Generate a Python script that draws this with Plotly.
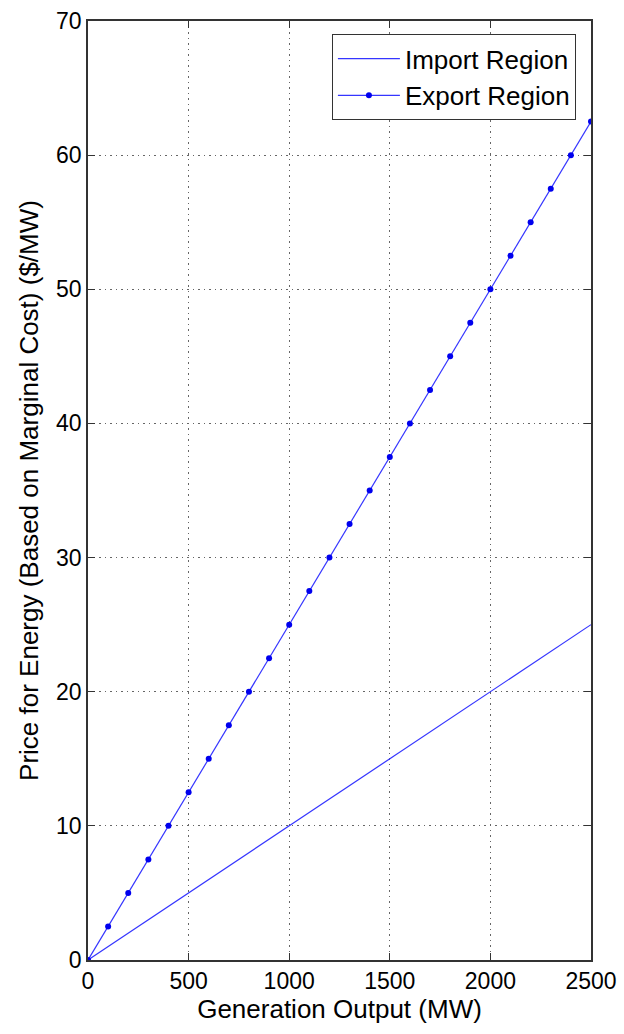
import plotly.graph_objects as go

gen_import = [0, 2500]
price_import = [0, 25]

gen_export = [0, 100, 200, 300, 400, 500, 600, 700, 800, 900, 1000, 1100, 1200,
              1300, 1400, 1500, 1600, 1700, 1800, 1900, 2000, 2100, 2200, 2300, 2400, 2500]
price_export = [0, 2.5, 5, 7.5, 10, 12.5, 15, 17.5, 20, 22.5, 25, 27.5, 30,
                32.5, 35, 37.5, 40, 42.5, 45, 47.5, 50, 52.5, 55, 57.5, 60, 62.5]

x_ticks = [0, 500, 1000, 1500, 2000, 2500]
y_ticks = [0, 10, 20, 30, 40, 50, 60, 70]

fig = go.Figure()
fig.add_trace(go.Scatter(x=gen_import, y=price_import, mode="lines", name="Import Region",
                         line=dict(color="#3535ff", width=1.2)))
fig.add_trace(go.Scatter(x=gen_export, y=price_export, mode="lines+markers", name="Export Region",
                         line=dict(color="#3535ff", width=1.2),
                         marker=dict(color="#0000ee", size=6)))

axis_common = dict(showline=True, linecolor="#333", linewidth=1.5, mirror="ticks",
                   ticks="inside", ticklen=7, tickcolor="#333", automargin=False,
                   showgrid=True, gridcolor="#666", griddash="1.5px,4px", gridwidth=1.2,
                   zeroline=False, tickfont=dict(size=23, color="black"))

fig.update_xaxes(range=[0, 2500], tickvals=x_ticks,
                 title=dict(text="Generation Output (MW)", font=dict(size=26, color="black"), standoff=4),
                 **axis_common)
fig.update_yaxes(range=[0, 70], tickvals=y_ticks,
                 title=dict(text="Price for Energy (Based on Marginal Cost) ($/MW)", font=dict(size=26, color="black"), standoff=10),
                 **axis_common)

fig.update_layout(
    width=624, height=1034,
    margin=dict(l=88, r=33, t=21, b=74),
    plot_bgcolor="white", paper_bgcolor="white",
    font=dict(family="Liberation Sans, Arial, sans-serif", color="black"),
    legend=dict(x=0.970, y=0.986, xanchor="right", yanchor="top",
                bordercolor="#333", borderwidth=1, bgcolor="white",
                font=dict(size=26, color="black"), itemwidth=62,
                tracegroupgap=0),
    showlegend=True,
)

fig.write_html("out.html")
